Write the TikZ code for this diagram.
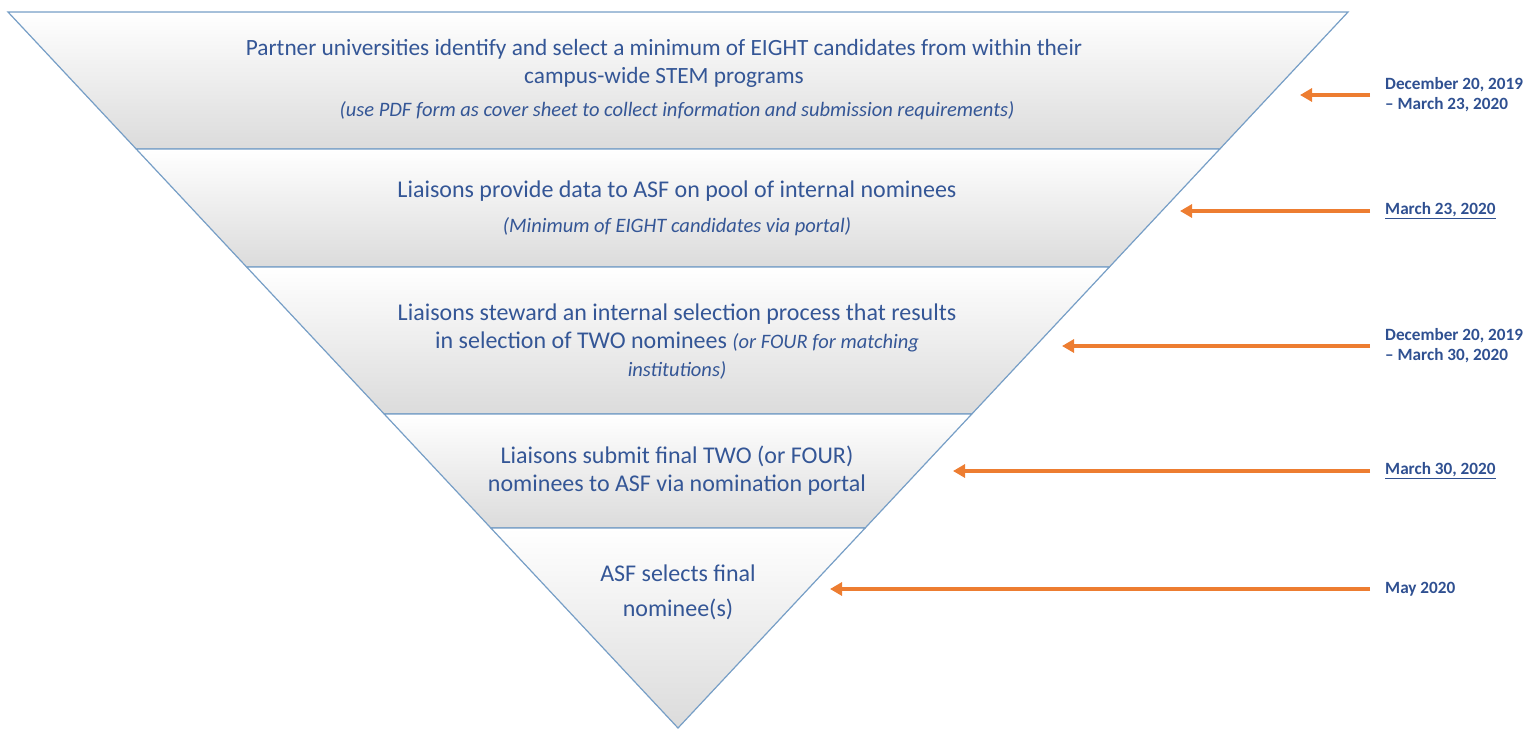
\documentclass[tikz,border=0pt]{standalone}
\usepackage{fontspec}
\setmainfont{Carlito}
\usetikzlibrary{arrows.meta,calc}
\definecolor{edgeblue}{RGB}{118,158,198}
\definecolor{textblue}{RGB}{52,86,150}
\definecolor{dateblue}{RGB}{47,80,145}
\definecolor{arrorange}{RGB}{237,125,49}
\newcommand{\notefont}{\fontsize{20.5}{24}\selectfont\itshape}

\begin{document}
\begin{tikzpicture}[x=1pt,y=-1pt,
    band/.style={draw=edgeblue,line width=1.2pt,top color=white,middle color=white,bottom color=black!14},
    main/.style={text=textblue,align=center,inner sep=0pt,font=\fontsize{24}{28}\selectfont},
    note/.style={text=textblue,align=center,inner sep=0pt,font=\notefont},
    date/.style={text=dateblue,anchor=west,align=left,inner sep=0pt,font=\fontsize{17.2}{20}\selectfont\bfseries},
    pointer/.style={draw=arrorange,line width=3.5pt,-{Triangle[length=12pt,width=13pt]},shorten <=15pt}]
        \useasboundingbox (0,0) rectangle (1539,729);
        \coordinate (tl) at (8,12);
        \coordinate (tr) at (1348,12);
        \coordinate (apex) at (678,728);
        % funnel bands
        \foreach \a/\b in {0/0.1913, 0.1913/0.3561, 0.3561/0.5615, 0.5615/0.7207, 0.7207/1}
            \shadedraw[band] ($(tl)!\a!(apex)$) -- ($(tr)!\a!(apex)$) -- ($(tr)!\b!(apex)$) -- ($(tl)!\b!(apex)$) -- cycle;
        \node[main,font=\fontsize{23.3}{28}\selectfont] (s1) at (664,63) {Partner universities identify and select a minimum of EIGHT candidates from within their\\campus-wide STEM programs};
        \node[note] (n1) at (677,111) {(use PDF form as cover sheet to collect information and submission requirements)};
        \node[main] (s2) at (677,191) {Liaisons provide data to ASF on pool of internal nominees};
        \node[note] (n2) at (677,227) {(Minimum of EIGHT candidates via portal)};
        \node[main] (s3) at (677,342) {Liaisons steward an internal selection process that results\\in selection of TWO nominees {\notefont(or FOUR for matching}\\{\notefont institutions)}};
        \node[main] (s4) at (677,471) {Liaisons submit final TWO (or FOUR)\\nominees to ASF via nomination portal};
        \node[main,font=\fontsize{24}{35}\selectfont] (s5) at (678,592) {ASF selects final\\nominee(s)};
        % dates on the right
        \node[date] (d1) at (1385,95) {December 20, 2019\\– March 23, 2020};
        \node[date] (d2) at (1385,211) {\underline{March 23, 2020}};
        \node[date] (d3) at (1385,346) {December 20, 2019\\– March 30, 2020};
        \node[date] (d4) at (1385,471) {\underline{March 30, 2020}};
        \node[date] (d5) at (1385,589) {May 2020};
        \coordinate (p1) at (1300,95);
        \coordinate (p2) at (1180,211);
        \coordinate (p3) at (1062,346);
        \coordinate (p4) at (953,471);
        \coordinate (p5) at (830,589);
        \foreach \i in {1,...,5}
            \draw[pointer] (d\i.west) -- (p\i);
\end{tikzpicture}
\end{document}
